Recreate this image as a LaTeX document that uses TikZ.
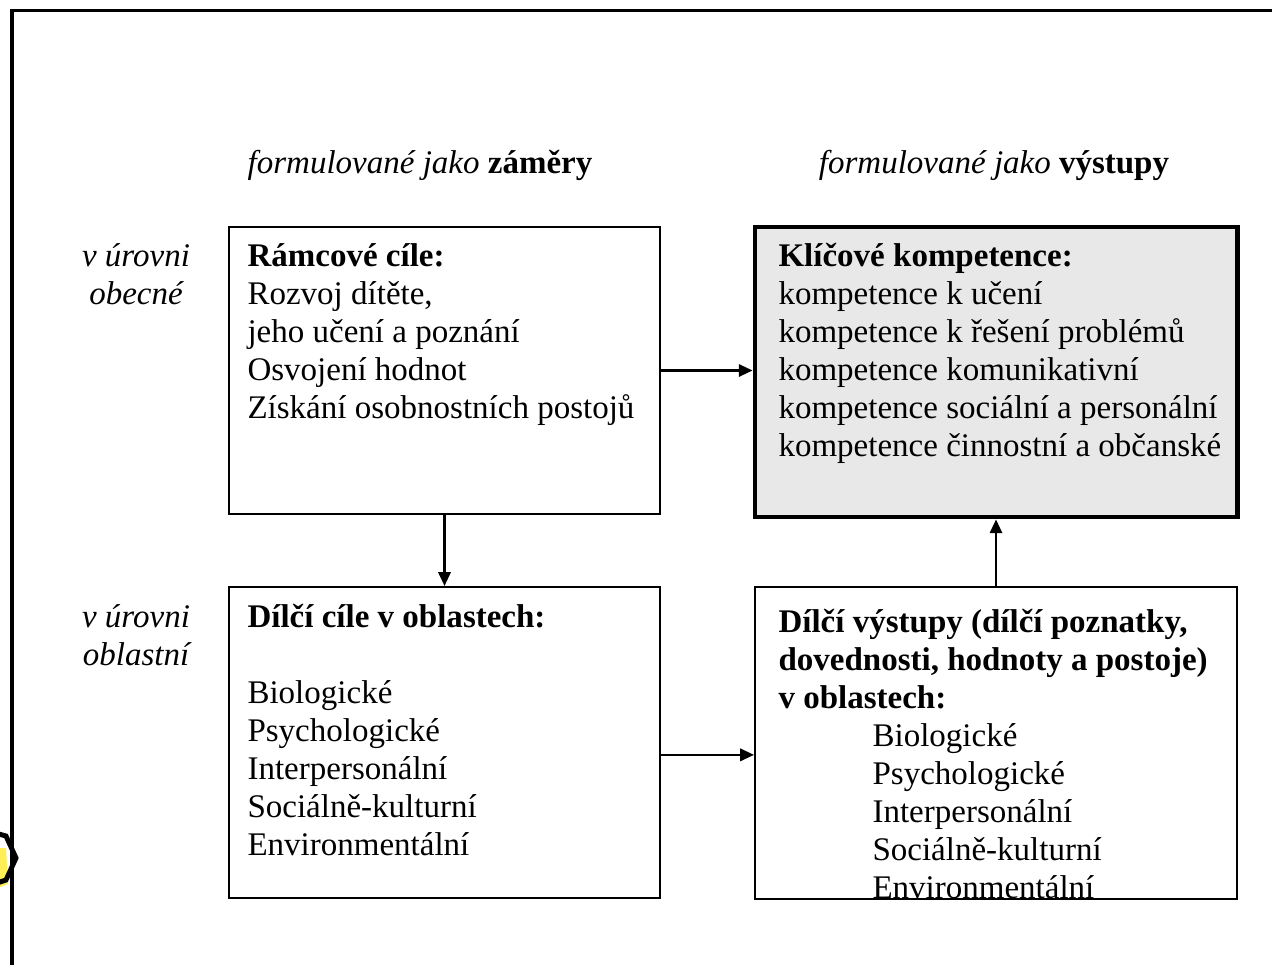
\documentclass[tikz,border=0pt]{standalone}
\usepackage{fontspec}
\setmainfont{Liberation Serif}
\usepackage{tikz}
\usetikzlibrary{fit,arrows.meta,shapes.geometric}

\definecolor{keygray}{HTML}{E8E8E8}
\definecolor{markyellow}{HTML}{FFEE55}

\newcommand{\bodyfont}{\fontsize{12}{13.8}\selectfont}

\tikzset{
  box/.style={draw, line width=0.75pt, inner sep=0pt},
  keybox/.style={box, line width=1.8pt, fill=keygray},
  txt/.style={align=left, anchor=north west, inner sep=0pt},
  side/.style={align=center, anchor=north, inner sep=0pt, font=\bodyfont\itshape},
  head/.style={anchor=base, inner sep=0pt},
  arr/.style={-{Triangle[length=5pt,width=4.5pt]}, line width=0.75pt}
}

\begin{document}
\begin{tikzpicture}[x=0.3636pt, y=-0.3636pt, font=\bodyfont]
    \useasboundingbox (0,0) rectangle (1272,965);

    % frame and the mark on the left edge
    \draw[line width=1.1pt] (12,965) -- (12,11) -- (1272,11);
    \fill[markyellow] (-2,848) -- (6,848) -- (8,884) -- (-2,888) -- cycle;
    \draw[line width=1.8pt]
      (-12,831) -- (6,836) -- (16,858) -- (6,880) -- (-12,886);

    % column headings
    \node[head] (hAims) at (420,174) {\textit{formulované jako} \textbf{záměry}};
    \node[head] (hOuts) at (994,174) {\textit{formulované jako} \textbf{výstupy}};

    % row labels
    \node[side] (lGen) at (136,243) {v úrovni\\obecné};
    \node[side] (lArea) at (136,604) {v úrovni\\oblastní};

    % boxes
    \node[box, fit={(229,227) (660,514)}] (b1) {};
    \node[keybox, fit={(755,227) (1237,517)}] (b2) {};
    \node[box, fit={(229,587) (660,898)}] (b3) {};
    \node[box, fit={(755,587) (1237,899)}] (b4) {};

    % box texts
    \node[txt] (t1) at (247,243) {\textbf{Rámcové cíle:}\\
      Rozvoj dítěte,\\
      jeho učení a poznání\\
      Osvojení hodnot\\
      Získání osobnostních postojů};
    \node[txt] (t2) at (778,243) {\textbf{Klíčové kompetence:}\\
      kompetence k učení\\
      kompetence k řešení problémů\\
      kompetence komunikativní\\
      kompetence sociální a personální\\
      kompetence činnostní a občanské};
    \node[txt] (t3) at (247,604) {\textbf{Dílčí cíle v oblastech:}\\[13.8pt]
      Biologické\\
      Psychologické\\
      Interpersonální\\
      Sociálně-kulturní\\
      Environmentální};
    \node[txt] (t4) at (778,609) {\textbf{Dílčí výstupy (dílčí poznatky,}\\
      \textbf{dovednosti, hodnoty a postoje)}\\
      \textbf{v oblastech:}};
    \node[txt] (t5) at (872,723) {Biologické\\
      Psychologické\\
      Interpersonální\\
      Sociálně-kulturní\\
      Environmentální};

    % arrows
    \draw[arr] (b1.east) -- (b1.east -| b2.west);
    \draw[arr] (b1.south) -- (b3.north);
    \draw[arr] ([yshift=-4.5pt]b3.east) -- ([yshift=-4.5pt]b3.east -| b4.west);
    \draw[arr] (b4.north) -- (b2.south);
\end{tikzpicture}
\end{document}
